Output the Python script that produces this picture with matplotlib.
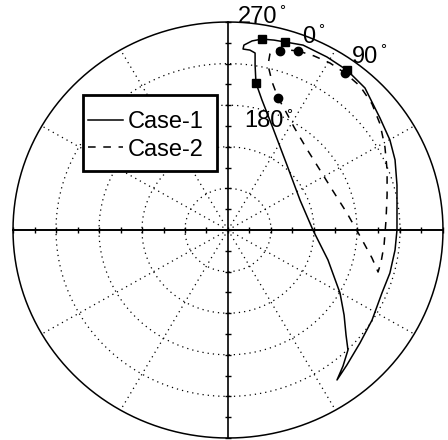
import numpy as np
import matplotlib
matplotlib.use("Agg")
import matplotlib.pyplot as plt
from matplotlib.lines import Line2D
from matplotlib.patches import Rectangle

plt.rcParams['font.family'] = ['Liberation Sans', 'DejaVu Sans']

# Journal centre locus (normalised eccentricity coordinates)
case1_x = [0.265, 0.349, 0.460, 0.553, 0.637, 0.707, 0.753, 0.777, 0.786, 0.786,
           0.786, 0.777, 0.753, 0.716, 0.670, 0.614, 0.553, 0.507, 0.535, 0.558,
           0.549, 0.540, 0.521, 0.465, 0.395, 0.335, 0.274, 0.209, 0.158, 0.130,
           0.126, 0.126, 0.102, 0.070, 0.074, 0.112, 0.158, 0.214, 0.265]
case1_y = [0.904, 0.889, 0.832, 0.769, 0.683, 0.538, 0.433, 0.337, 0.216, 0.096,
           0.000, -0.096, -0.207, -0.303, -0.433, -0.543, -0.649, -0.721, -0.654, -0.577,
           -0.505, -0.409, -0.303, -0.144, 0.000, 0.144, 0.313, 0.490, 0.625, 0.707,
           0.793, 0.851, 0.865, 0.870, 0.889, 0.909, 0.918, 0.913, 0.904]

case2_x = [0.326, 0.400, 0.474, 0.544, 0.614, 0.670, 0.707, 0.730, 0.740, 0.740,
           0.735, 0.726, 0.712, 0.698, 0.670, 0.614, 0.553, 0.488, 0.428, 0.367,
           0.307, 0.265, 0.233, 0.205, 0.186, 0.195, 0.223, 0.242, 0.284, 0.326]
case2_y = [0.861, 0.837, 0.803, 0.755, 0.692, 0.606, 0.510, 0.399, 0.288, 0.168,
           0.048, -0.072, -0.154, -0.202, -0.135, -0.029, 0.082, 0.188, 0.288, 0.389,
           0.495, 0.577, 0.635, 0.712, 0.793, 0.846, 0.870, 0.861, 0.865, 0.861]

# Crank-angle markers (0, 90, 180, 270 deg)
marker_angles = ["0", "90", "180", "270"]
case1_mk_x = [0.265, 0.553, 0.130, 0.158]
case1_mk_y = [0.904, 0.769, 0.707, 0.918]
case2_mk_x = [0.326, 0.544, 0.233, 0.242]
case2_mk_y = [0.861, 0.755, 0.635, 0.861]

# Angle label anchors
label_x = [0.377, 0.639, 0.167, 0.137]
label_y = [0.930, 0.834, 0.522, 1.022]

legend_labels = ["Case-1", "Case-2"]
ring_radii = [0.2, 0.4, 0.6, 0.8]
spoke_angles = [30, 60, 120, 150, 210, 240, 300, 330]
tick_vals = np.round(np.arange(-1.0, 1.0001, 0.1), 2)

W, H = 448, 440
fig = plt.figure(figsize=(W / 100, H / 100), dpi=100)
ax = fig.add_axes([0, 0, 1, 1])
ax.set_xlim(-1.0605, 1.0233)
ax.set_ylim(-1.0096, 1.1058)
ax.axis("off")

t = np.linspace(0, 2 * np.pi, 721)
dot = (0, (1, 3.2))
for r in ring_radii:
    ax.plot(r * np.cos(t), r * np.sin(t), color="black", lw=0.9, ls=dot)
for a in spoke_angles:
    ar = np.deg2rad(a)
    ax.plot([0, np.cos(ar)], [0, np.sin(ar)], color="black", lw=0.9, ls=dot)
ax.plot(np.cos(t), np.sin(t), color="black", lw=1.1)

# Cross-hair axes with tick marks
ax.plot([-1, 1], [0, 0], color="black", lw=1.4)
ax.plot([0, 0], [-1, 1], color="black", lw=1.2)
ax.plot(tick_vals, np.zeros_like(tick_vals), ls="none", marker="|", ms=5,
        mew=1.0, color="black")
ax.plot(np.zeros_like(tick_vals), tick_vals, ls="none", marker="_", ms=5,
        mew=1.0, color="black")

ax.plot(case1_x, case1_y, color="black", lw=1.1)
ax.plot(case2_x, case2_y, color="black", lw=1.1, ls=(0, (5, 5)))
ax.plot(case1_mk_x, case1_mk_y, ls="none", marker="s", ms=5.5, color="black")
ax.plot(case2_mk_x, case2_mk_y, ls="none", marker="o", ms=6, color="black")

for lab, lx, ly in zip(marker_angles, label_x, label_y):
    txt = ax.text(lx, ly, lab, fontsize=17, ha="center", va="center",
                  color="black")
    ax.annotate("°", xy=(1, 1), xycoords=txt, xytext=(1.5, 2),
                textcoords="offset points", fontsize=11, ha="left",
                va="top", color="black")

# Legend: white box with thick border, entries drawn on top
ax.add_patch(Rectangle((83 / W, 1 - 171 / H), 134 / W, 76 / H,
                       transform=fig.transFigure, fc="white",
                       lw=2, ec="black", zorder=4))
handles = [Line2D([], [], color="black", lw=1.1),
           Line2D([], [], color="black", lw=1.1, ls=(0, (5, 5)))]
leg = ax.legend(handles, legend_labels, loc="upper left",
                bbox_to_anchor=(88 / W, 1 - 111 / H),
                bbox_transform=fig.transFigure, borderaxespad=0, borderpad=0,
                fontsize=17, handlelength=1.5, handletextpad=0.2,
                labelspacing=0.24, frameon=False)
leg.set_zorder(5)

fig.savefig("out.png", dpi=100)
